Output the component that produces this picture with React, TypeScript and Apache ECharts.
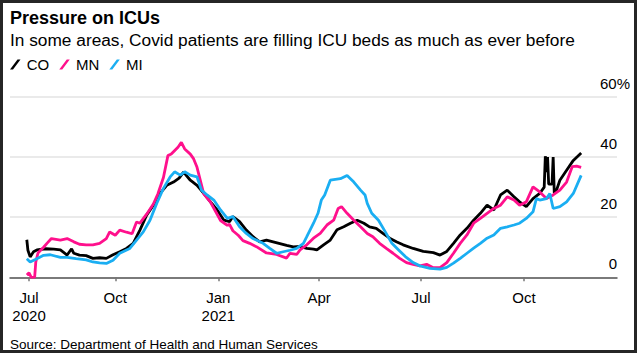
import React, { useEffect, useRef } from "react";
import * as echarts from "echarts";

// Day offsets since 2020-07-01
const TICK_DAYS = [15, 92, 184, 274, 365, 457];
const TICK_LABELS = ["Jul\n2020", "Oct", "Jan\n2021", "Apr", "Jul", "Oct"];

const CO: [number, number][] = [
  [13, 12.5], [14, 9], [16, 6.8], [19, 8.5], [22, 9.1], [30, 9.5], [37, 9.4], [43, 9.1], [49, 7.4], [53, 9.5],
  [55, 8], [60, 7.4], [66, 7.2], [72, 6.3], [78, 6.5], [84, 6.3], [90, 7.5], [96, 8.5], [102, 9.6], [108, 11.3],
  [114, 15.7], [120, 20.7], [126, 24], [132, 27.9], [138, 30.6], [144, 31.7], [149, 33], [153, 35], [159, 32.3],
  [165, 30.6], [171, 27.9], [177, 25.1], [183, 22.4], [189, 19], [194, 18.5], [197, 20.2], [203, 18.5], [209, 15.7],
  [215, 13.5], [221, 11.8], [227, 12.4], [233, 11.8], [239, 11.2], [245, 10.6], [251, 10.1], [257, 10.3], [263, 9.6],
  [269, 9.4], [272, 9.1], [278, 10.8], [284, 12.4], [290, 15.8], [296, 16.8], [302, 18], [308, 19], [314, 18],
  [319, 16.8], [325, 16.3], [331, 14.6], [337, 13], [343, 11.8], [349, 10.8], [358, 9.6], [367, 8.6], [376, 8.2],
  [382, 7.4], [388, 8.6], [394, 11.3], [400, 14.1], [406, 16.3], [412, 19], [418, 21.3], [424, 24], [430, 22.4],
  [436, 27.4], [442, 29], [448, 26.8], [453, 25.1], [459, 23.5], [465, 26.2], [471, 27.9], [475, 30], [476, 40.3],
  [477, 35], [478, 40], [479, 31], [482, 31], [483, 40], [484, 28], [486, 29], [489, 32.3], [495, 35.6], [501, 38.9],
  [508, 41.4],
];

const MN: [number, number][] = [
  [13, 0.8], [15, 1.5], [17, 0], [20, 0], [21, 5], [23, 8.1], [28, 10], [31, 11.3], [35, 12.9], [43, 12.4],
  [49, 12.9], [55, 11.8], [60, 11], [66, 10.8], [72, 10.8], [78, 11.3], [84, 12.9], [87, 15.1], [92, 14], [96, 15.7],
  [102, 15], [107, 14.5], [111, 18.4], [114, 18], [120, 21], [126, 24.4], [130, 27.7], [135, 33.2], [139, 40.5],
  [142, 41], [148, 43.3], [151, 44.9], [154, 42.7], [159, 41], [162, 39.4], [165, 36.6], [168, 32.2], [171, 27.8],
  [177, 25], [181, 22.3], [186, 18.9], [192, 17.3], [194, 17.6], [197, 15.5], [202, 13.9], [206, 12.2], [212, 11.3],
  [218, 10.2], [227, 8.1], [236, 7.6], [245, 6.4], [248, 8], [254, 7.6], [257, 9.1], [263, 10.8], [269, 13],
  [275, 14.6], [281, 17.4], [287, 19], [291, 22.9], [294, 23.5], [299, 21.3], [305, 19], [311, 16.8], [317, 14.6],
  [322, 13.5], [328, 11.3], [334, 9.6], [340, 8], [346, 6.3], [352, 4.9], [358, 4.3], [364, 3.8], [370, 4.3],
  [376, 3.2], [382, 3.2], [388, 4.9], [394, 8], [400, 11.3], [406, 14.1], [412, 18], [418, 19.6], [424, 21.3],
  [430, 22.9], [436, 24], [442, 26.8], [448, 25.7], [453, 24], [459, 25.1], [465, 30.1], [471, 28.4], [477, 26.2],
  [483, 27.4], [489, 29], [495, 31.7], [500, 36.8], [504, 37], [508, 36.6],
];

const MI: [number, number][] = [
  [13, 6.2], [16, 5.1], [22, 6.2], [28, 7.3], [34, 7.5], [43, 6.6], [49, 6.6], [57, 6.2], [66, 5.8], [72, 5.1],
  [78, 4.8], [84, 4.6], [90, 5.7], [96, 8], [105, 9.6], [111, 12.4], [117, 15.1], [123, 19], [129, 24.6], [135, 29.6],
  [141, 33.4], [145, 35.1], [150, 34], [154, 35.1], [159, 34], [165, 33.4], [169, 29], [174, 27.4], [180, 25.7],
  [186, 22.4], [192, 19.6], [197, 20.2], [203, 16.8], [209, 14.6], [215, 12.9], [224, 11.3], [230, 9.6], [236, 8],
  [242, 8.5], [248, 9], [254, 9.6], [260, 11.3], [263, 13.5], [269, 18], [273, 21.3], [276, 25.7], [279, 27.4],
  [284, 32.3], [287, 32.5], [293, 32.8], [299, 33.9], [305, 31.7], [311, 29], [315, 27.4], [317, 24.6], [321, 21.3],
  [327, 19], [333, 15.2], [339, 11.3], [345, 9.1], [351, 6.9], [358, 4.9], [364, 3.8], [373, 3], [382, 2.7],
  [388, 3.3], [394, 4.7], [400, 6.3], [406, 8], [412, 9.7], [418, 11.3], [424, 13], [430, 14.1], [436, 16.3],
  [442, 16.8], [448, 17.4], [453, 18], [459, 19.6], [465, 21.8], [468, 26.2], [471, 25.7], [477, 26.2], [480, 27.9],
  [483, 22.9], [489, 23.5], [495, 25.1], [501, 27.9], [508, 33.9],
];

const FONT = "'Liberation Sans', Arial, Helvetica, sans-serif";
const SLASH = "path://M0,10 L7.5,0 L10.5,0 L3,10 Z";

export default function App() {
  const ref = useRef<HTMLDivElement>(null);
  useEffect(() => {
    if (!ref.current) return;
    const chart = echarts.init(ref.current, undefined, { renderer: "svg" });
    const labelMap: Record<number, string> = {};
    TICK_DAYS.forEach((d, i) => (labelMap[d] = TICK_LABELS[i]));
    chart.setOption({
      animation: false,
      backgroundColor: "#fff",
      textStyle: { fontFamily: FONT },
      title: [
        {
          text: "Pressure on ICUs",
          left: 10,
          top: 9,
          padding: 0,
          textStyle: { fontFamily: FONT, fontSize: 18, fontWeight: "bold", color: "#000" },
        },
        {
          text: "In some areas, Covid patients are filling ICU beds as much as ever before",
          left: 10,
          top: 31,
          padding: 0,
          textStyle: { fontFamily: FONT, fontSize: 17.3, fontWeight: "normal", color: "#000" },
        },
        {
          text: "Source: Department of Health and Human Services",
          left: 10,
          top: 337,
          padding: 0,
          textStyle: { fontFamily: FONT, fontSize: 13.5, fontWeight: "normal", color: "#000" },
        },
      ],
      legend: {
        left: 10,
        top: 57,
        padding: 0,
        itemWidth: 11,
        itemHeight: 10,
        itemGap: 10,
        icon: SLASH,
        textStyle: { fontFamily: FONT, fontSize: 15, color: "#000", padding: [0, 0, 0, 1] },
        data: ["CO", "MN", "MI"],
      },
      grid: { left: 10, right: 20, top: 97, bottom: 75.7, containLabel: false },
      xAxis: {
        type: "value",
        min: -2,
        max: 540,
        splitLine: { show: false },
        axisLine: { show: true, lineStyle: { color: "#555", width: 1.5 } },
        axisTick: { show: true, customValues: TICK_DAYS, length: 4, lineStyle: { color: "#777", width: 1.5 } },
        axisLabel: {
          customValues: TICK_DAYS,
          formatter: (v: number) => labelMap[v] ?? "",
          margin: 11,
          fontFamily: FONT,
          fontSize: 15,
          lineHeight: 18,
          color: "#000",
        },
      },
      yAxis: {
        type: "value",
        position: "right",
        min: 0,
        max: 60,
        interval: 20,
        axisLine: { show: false },
        axisTick: { show: false },
        splitLine: { lineStyle: { color: "#e3e3e3", width: 1.5 } },
        axisLabel: {
          inside: true,
          margin: -13,
          verticalAlign: "bottom",
          padding: [0, 0, 6, 0],
          color: "#000",
          fontFamily: FONT,
          fontSize: 15,
          formatter: (v: number) => (v === 60 ? `{b|${v}}{p|%}` : `{a|${v}}`),
          rich: {
            a: { fontFamily: FONT, fontSize: 15, color: "#000", padding: [0, 13, 0, 0] },
            b: { fontFamily: FONT, fontSize: 15, color: "#000" },
            p: { fontFamily: FONT, fontSize: 15, color: "#000" },
          },
        },
      },
      series: [
        { name: "CO", type: "line", data: CO, showSymbol: false, color: "#000000", lineStyle: { width: 2.8 }, silent: true },
        { name: "MN", type: "line", data: MN, showSymbol: false, color: "#ff108c", lineStyle: { width: 2.8 }, silent: true },
        { name: "MI", type: "line", data: MI, showSymbol: false, color: "#1aaef2", lineStyle: { width: 2.8 }, silent: true },
      ],
      graphic: [
        {
          type: "rect",
          silent: true,
          z: 100,
          shape: { x: 1.5, y: 1.5, width: 634, height: 350 },
          style: { fill: "none", stroke: "#262626", lineWidth: 3 },
        },
      ],
    });
    return () => chart.dispose();
  }, []);
  return (
    <div
      ref={ref}
      style={{ position: "absolute", left: 0, top: 0, width: 637, height: 353 }}
    />
  );
}
